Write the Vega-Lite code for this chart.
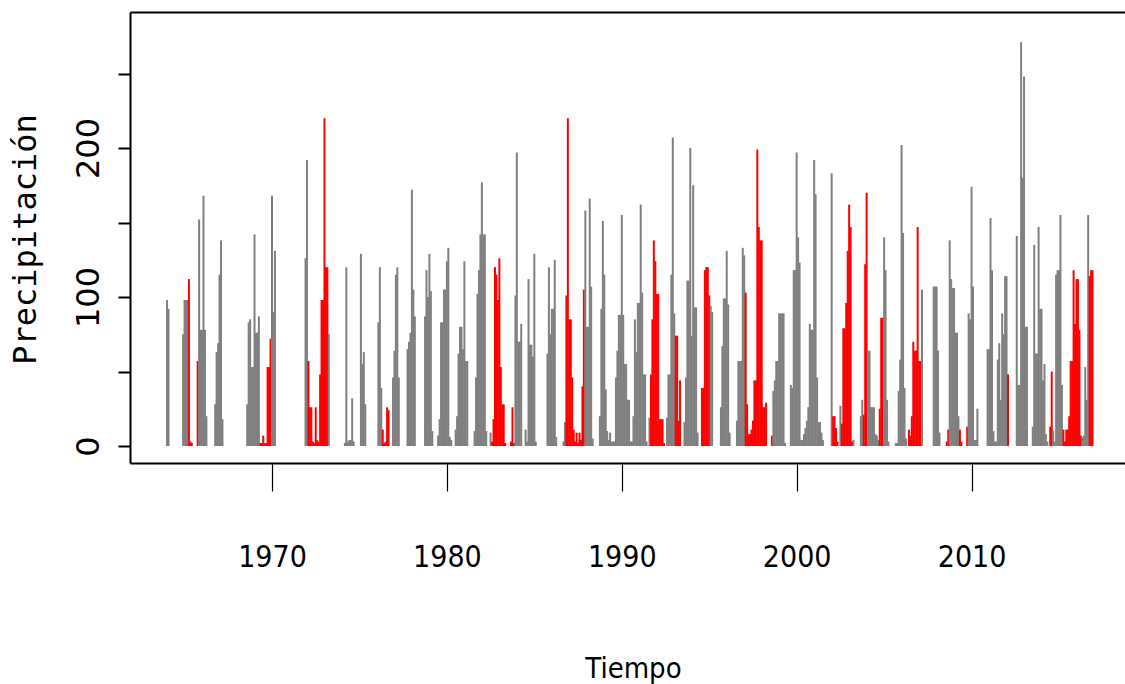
{
"$schema": "https://vega.github.io/schema/vega-lite/v6.json",
"autosize": "none",
"padding": {"left": 130, "top": 12, "right": 0, "bottom": 221},
"width": 996,
"height": 451,
"background": "white",
"config": {"view": {"stroke": null}, "axis": {"grid": false}},
"datasets": {"precip": [
{"t":1964,"p":98,"e":"Normal"},{"t":1964.083,"p":92,"e":"Normal"},{"t":1964.917,"p":75,"e":"Normal"},
{"t":1965,"p":98,"e":"Normal"},{"t":1965.083,"p":98,"e":"Normal"},{"t":1965.167,"p":98,"e":"Normal"},{"t":1965.25,"p":112,"e":"Niño"},{"t":1965.333,"p":3,"e":"Niño"},{"t":1965.417,"p":2,"e":"Niño"},{"t":1965.75,"p":57,"e":"Niño"},{"t":1965.833,"p":152,"e":"Normal"},{"t":1965.917,"p":78,"e":"Normal"},
{"t":1966,"p":78,"e":"Normal"},{"t":1966.083,"p":168,"e":"Normal"},{"t":1966.167,"p":78,"e":"Normal"},{"t":1966.25,"p":20,"e":"Normal"},{"t":1966.75,"p":28,"e":"Normal"},{"t":1966.833,"p":63,"e":"Normal"},{"t":1966.917,"p":69,"e":"Normal"},
{"t":1967,"p":115,"e":"Normal"},{"t":1967.083,"p":138,"e":"Normal"},{"t":1967.167,"p":18,"e":"Normal"},
{"t":1968.583,"p":28,"e":"Normal"},{"t":1968.667,"p":83,"e":"Normal"},{"t":1968.75,"p":85,"e":"Normal"},{"t":1968.833,"p":53,"e":"Normal"},{"t":1968.917,"p":53,"e":"Normal"},
{"t":1969,"p":142,"e":"Normal"},{"t":1969.083,"p":76,"e":"Normal"},{"t":1969.167,"p":76,"e":"Normal"},{"t":1969.25,"p":87,"e":"Normal"},{"t":1969.333,"p":2,"e":"Niño"},{"t":1969.417,"p":2,"e":"Niño"},{"t":1969.5,"p":7,"e":"Niño"},{"t":1969.583,"p":2,"e":"Niño"},{"t":1969.667,"p":2,"e":"Niño"},{"t":1969.75,"p":53,"e":"Niño"},{"t":1969.833,"p":53,"e":"Niño"},{"t":1969.917,"p":72,"e":"Niño"},
{"t":1970,"p":168,"e":"Normal"},{"t":1970.083,"p":90,"e":"Normal"},{"t":1970.167,"p":131,"e":"Normal"},
{"t":1971.917,"p":126,"e":"Normal"},
{"t":1972,"p":192,"e":"Normal"},{"t":1972.083,"p":57,"e":"Niño"},{"t":1972.167,"p":26,"e":"Niño"},{"t":1972.25,"p":26,"e":"Niño"},{"t":1972.333,"p":3,"e":"Niño"},{"t":1972.417,"p":2,"e":"Niño"},{"t":1972.5,"p":26,"e":"Niño"},{"t":1972.583,"p":4,"e":"Niño"},{"t":1972.667,"p":3,"e":"Niño"},{"t":1972.75,"p":48,"e":"Niño"},{"t":1972.833,"p":98,"e":"Niño"},{"t":1972.917,"p":98,"e":"Niño"},
{"t":1973,"p":220,"e":"Niño"},{"t":1973.083,"p":120,"e":"Niño"},{"t":1973.167,"p":120,"e":"Niño"},{"t":1973.25,"p":75,"e":"Normal"},
{"t":1974.167,"p":2,"e":"Normal"},{"t":1974.25,"p":120,"e":"Normal"},{"t":1974.333,"p":3,"e":"Normal"},{"t":1974.417,"p":4,"e":"Normal"},{"t":1974.5,"p":4,"e":"Normal"},{"t":1974.583,"p":32,"e":"Normal"},{"t":1974.667,"p":3,"e":"Normal"},
{"t":1975.083,"p":129,"e":"Normal"},{"t":1975.167,"p":55,"e":"Normal"},{"t":1975.25,"p":63,"e":"Normal"},{"t":1975.333,"p":28,"e":"Normal"},
{"t":1976.083,"p":83,"e":"Normal"},{"t":1976.167,"p":120,"e":"Normal"},{"t":1976.25,"p":39,"e":"Normal"},{"t":1976.333,"p":11,"e":"Niño"},{"t":1976.417,"p":2,"e":"Niño"},{"t":1976.5,"p":3,"e":"Niño"},{"t":1976.583,"p":26,"e":"Niño"},{"t":1976.667,"p":24,"e":"Niño"},{"t":1976.917,"p":46,"e":"Normal"},
{"t":1977,"p":64,"e":"Normal"},{"t":1977.083,"p":115,"e":"Normal"},{"t":1977.167,"p":120,"e":"Normal"},{"t":1977.25,"p":46,"e":"Normal"},{"t":1977.75,"p":65,"e":"Normal"},{"t":1977.833,"p":70,"e":"Normal"},{"t":1977.917,"p":76,"e":"Normal"},
{"t":1978,"p":172,"e":"Normal"},{"t":1978.083,"p":105,"e":"Normal"},{"t":1978.167,"p":87,"e":"Normal"},{"t":1978.75,"p":87,"e":"Normal"},{"t":1978.833,"p":118,"e":"Normal"},{"t":1978.917,"p":100,"e":"Normal"},
{"t":1979,"p":129,"e":"Normal"},{"t":1979.083,"p":104,"e":"Normal"},{"t":1979.167,"p":10,"e":"Normal"},{"t":1979.5,"p":7,"e":"Normal"},{"t":1979.583,"p":18,"e":"Normal"},{"t":1979.667,"p":83,"e":"Normal"},{"t":1979.75,"p":83,"e":"Normal"},{"t":1979.833,"p":105,"e":"Normal"},{"t":1979.917,"p":105,"e":"Normal"},
{"t":1980,"p":124,"e":"Normal"},{"t":1980.083,"p":133,"e":"Normal"},{"t":1980.167,"p":6,"e":"Normal"},{"t":1980.25,"p":4,"e":"Normal"},{"t":1980.5,"p":11,"e":"Normal"},{"t":1980.583,"p":20,"e":"Normal"},{"t":1980.667,"p":62,"e":"Normal"},{"t":1980.75,"p":80,"e":"Normal"},{"t":1980.833,"p":80,"e":"Normal"},{"t":1980.917,"p":65,"e":"Normal"},
{"t":1981,"p":124,"e":"Normal"},{"t":1981.083,"p":57,"e":"Normal"},{"t":1981.167,"p":57,"e":"Normal"},{"t":1981.583,"p":10,"e":"Normal"},{"t":1981.667,"p":46,"e":"Normal"},{"t":1981.75,"p":102,"e":"Normal"},{"t":1981.833,"p":118,"e":"Normal"},{"t":1981.917,"p":142,"e":"Normal"},
{"t":1982,"p":177,"e":"Normal"},{"t":1982.083,"p":142,"e":"Normal"},{"t":1982.167,"p":142,"e":"Normal"},{"t":1982.25,"p":10,"e":"Normal"},{"t":1982.5,"p":9,"e":"Normal"},{"t":1982.583,"p":3,"e":"Niño"},{"t":1982.667,"p":18,"e":"Niño"},{"t":1982.75,"p":120,"e":"Niño"},{"t":1982.833,"p":115,"e":"Niño"},{"t":1982.917,"p":98,"e":"Niño"},
{"t":1983,"p":126,"e":"Niño"},{"t":1983.083,"p":53,"e":"Niño"},{"t":1983.167,"p":28,"e":"Niño"},{"t":1983.25,"p":28,"e":"Niño"},{"t":1983.333,"p":2,"e":"Niño"},{"t":1983.667,"p":3,"e":"Niño"},{"t":1983.75,"p":26,"e":"Niño"},{"t":1983.833,"p":2,"e":"Niño"},{"t":1983.917,"p":101,"e":"Normal"},
{"t":1984,"p":197,"e":"Normal"},{"t":1984.083,"p":70,"e":"Normal"},{"t":1984.167,"p":70,"e":"Normal"},{"t":1984.25,"p":82,"e":"Normal"},{"t":1984.5,"p":11,"e":"Normal"},{"t":1984.583,"p":3,"e":"Normal"},{"t":1984.667,"p":112,"e":"Normal"},{"t":1984.75,"p":68,"e":"Normal"},{"t":1984.833,"p":68,"e":"Normal"},{"t":1984.917,"p":60,"e":"Normal"},
{"t":1985,"p":129,"e":"Normal"},{"t":1985.083,"p":3,"e":"Normal"},{"t":1985.75,"p":62,"e":"Normal"},{"t":1985.833,"p":120,"e":"Normal"},{"t":1985.917,"p":75,"e":"Normal"},
{"t":1986,"p":92,"e":"Normal"},{"t":1986.083,"p":92,"e":"Normal"},{"t":1986.167,"p":125,"e":"Normal"},{"t":1986.25,"p":6,"e":"Normal"},{"t":1986.667,"p":3,"e":"Normal"},{"t":1986.75,"p":16,"e":"Normal"},{"t":1986.833,"p":101,"e":"Niño"},{"t":1986.917,"p":220,"e":"Niño"},
{"t":1987,"p":85,"e":"Niño"},{"t":1987.083,"p":85,"e":"Niño"},{"t":1987.167,"p":46,"e":"Niño"},{"t":1987.25,"p":11,"e":"Niño"},{"t":1987.333,"p":3,"e":"Niño"},{"t":1987.417,"p":9,"e":"Niño"},{"t":1987.5,"p":2,"e":"Niño"},{"t":1987.583,"p":9,"e":"Niño"},{"t":1987.667,"p":4,"e":"Niño"},{"t":1987.75,"p":40,"e":"Niño"},{"t":1987.833,"p":105,"e":"Niño"},{"t":1987.917,"p":158,"e":"Normal"},
{"t":1988,"p":80,"e":"Normal"},{"t":1988.083,"p":80,"e":"Normal"},{"t":1988.167,"p":166,"e":"Normal"},{"t":1988.25,"p":107,"e":"Normal"},{"t":1988.333,"p":5,"e":"Normal"},{"t":1988.75,"p":20,"e":"Normal"},{"t":1988.833,"p":92,"e":"Normal"},{"t":1988.917,"p":151,"e":"Normal"},
{"t":1989,"p":115,"e":"Normal"},{"t":1989.083,"p":38,"e":"Normal"},{"t":1989.167,"p":10,"e":"Normal"},{"t":1989.25,"p":4,"e":"Normal"},{"t":1989.333,"p":9,"e":"Normal"},{"t":1989.417,"p":3,"e":"Normal"},{"t":1989.5,"p":3,"e":"Normal"},{"t":1989.583,"p":3,"e":"Normal"},{"t":1989.667,"p":46,"e":"Normal"},{"t":1989.75,"p":64,"e":"Normal"},{"t":1989.833,"p":88,"e":"Normal"},{"t":1989.917,"p":88,"e":"Normal"},
{"t":1990,"p":155,"e":"Normal"},{"t":1990.083,"p":88,"e":"Normal"},{"t":1990.167,"p":55,"e":"Normal"},{"t":1990.25,"p":55,"e":"Normal"},{"t":1990.333,"p":31,"e":"Normal"},{"t":1990.417,"p":31,"e":"Normal"},{"t":1990.5,"p":3,"e":"Normal"},{"t":1990.583,"p":3,"e":"Normal"},{"t":1990.667,"p":20,"e":"Normal"},{"t":1990.75,"p":85,"e":"Normal"},{"t":1990.833,"p":63,"e":"Normal"},{"t":1990.917,"p":96,"e":"Normal"},
{"t":1991,"p":96,"e":"Normal"},{"t":1991.083,"p":162,"e":"Normal"},{"t":1991.167,"p":103,"e":"Normal"},{"t":1991.25,"p":48,"e":"Normal"},{"t":1991.333,"p":48,"e":"Normal"},{"t":1991.417,"p":3,"e":"Normal"},{"t":1991.583,"p":19,"e":"Normal"},{"t":1991.667,"p":48,"e":"Niño"},{"t":1991.75,"p":85,"e":"Niño"},{"t":1991.833,"p":138,"e":"Niño"},{"t":1991.917,"p":124,"e":"Niño"},
{"t":1992,"p":102,"e":"Niño"},{"t":1992.083,"p":102,"e":"Niño"},{"t":1992.167,"p":18,"e":"Niño"},{"t":1992.25,"p":18,"e":"Niño"},{"t":1992.333,"p":18,"e":"Niño"},{"t":1992.417,"p":2,"e":"Niño"},{"t":1992.583,"p":19,"e":"Normal"},{"t":1992.667,"p":48,"e":"Normal"},{"t":1992.75,"p":48,"e":"Normal"},{"t":1992.833,"p":115,"e":"Normal"},{"t":1992.917,"p":207,"e":"Normal"},
{"t":1993,"p":89,"e":"Normal"},{"t":1993.083,"p":74,"e":"Niño"},{"t":1993.167,"p":74,"e":"Niño"},{"t":1993.25,"p":17,"e":"Niño"},{"t":1993.333,"p":44,"e":"Niño"},{"t":1993.583,"p":16,"e":"Normal"},{"t":1993.667,"p":46,"e":"Normal"},{"t":1993.75,"p":111,"e":"Normal"},{"t":1993.833,"p":111,"e":"Normal"},{"t":1993.917,"p":200,"e":"Normal"},
{"t":1994,"p":74,"e":"Normal"},{"t":1994.083,"p":175,"e":"Normal"},{"t":1994.167,"p":93,"e":"Normal"},{"t":1994.25,"p":93,"e":"Normal"},{"t":1994.333,"p":9,"e":"Normal"},{"t":1994.583,"p":39,"e":"Niño"},{"t":1994.667,"p":39,"e":"Niño"},{"t":1994.75,"p":118,"e":"Niño"},{"t":1994.833,"p":120,"e":"Niño"},{"t":1994.917,"p":120,"e":"Niño"},
{"t":1995,"p":101,"e":"Niño"},{"t":1995.083,"p":94,"e":"Normal"},{"t":1995.167,"p":90,"e":"Normal"},{"t":1995.667,"p":26,"e":"Normal"},{"t":1995.75,"p":67,"e":"Normal"},{"t":1995.833,"p":99,"e":"Normal"},{"t":1995.917,"p":99,"e":"Normal"},
{"t":1996,"p":131,"e":"Normal"},{"t":1996.083,"p":95,"e":"Normal"},{"t":1996.167,"p":9,"e":"Normal"},{"t":1996.583,"p":17,"e":"Normal"},{"t":1996.667,"p":57,"e":"Normal"},{"t":1996.75,"p":57,"e":"Normal"},{"t":1996.833,"p":57,"e":"Normal"},{"t":1996.917,"p":133,"e":"Normal"},
{"t":1997,"p":128,"e":"Normal"},{"t":1997.083,"p":103,"e":"Niño"},{"t":1997.167,"p":28,"e":"Niño"},{"t":1997.25,"p":8,"e":"Niño"},{"t":1997.333,"p":8,"e":"Niño"},{"t":1997.417,"p":11,"e":"Niño"},{"t":1997.5,"p":17,"e":"Niño"},{"t":1997.583,"p":44,"e":"Niño"},{"t":1997.667,"p":44,"e":"Niño"},{"t":1997.75,"p":199,"e":"Niño"},{"t":1997.833,"p":147,"e":"Niño"},{"t":1997.917,"p":138,"e":"Niño"},
{"t":1998,"p":138,"e":"Niño"},{"t":1998.083,"p":26,"e":"Niño"},{"t":1998.167,"p":26,"e":"Niño"},{"t":1998.25,"p":29,"e":"Niño"},{"t":1998.583,"p":7,"e":"Niño"},{"t":1998.667,"p":37,"e":"Normal"},{"t":1998.75,"p":44,"e":"Normal"},{"t":1998.833,"p":57,"e":"Normal"},{"t":1998.917,"p":57,"e":"Normal"},
{"t":1999,"p":89,"e":"Normal"},{"t":1999.083,"p":89,"e":"Normal"},{"t":1999.167,"p":89,"e":"Normal"},{"t":1999.25,"p":89,"e":"Normal"},{"t":1999.333,"p":2,"e":"Normal"},{"t":1999.667,"p":41,"e":"Normal"},{"t":1999.75,"p":39,"e":"Normal"},{"t":1999.833,"p":118,"e":"Normal"},{"t":1999.917,"p":118,"e":"Normal"},
{"t":2000,"p":197,"e":"Normal"},{"t":2000.083,"p":140,"e":"Normal"},{"t":2000.167,"p":123,"e":"Normal"},{"t":2000.25,"p":4,"e":"Normal"},{"t":2000.333,"p":4,"e":"Normal"},{"t":2000.417,"p":8,"e":"Normal"},{"t":2000.5,"p":12,"e":"Normal"},{"t":2000.583,"p":17,"e":"Normal"},{"t":2000.667,"p":26,"e":"Normal"},{"t":2000.75,"p":82,"e":"Normal"},{"t":2000.833,"p":78,"e":"Normal"},{"t":2000.917,"p":78,"e":"Normal"},
{"t":2001,"p":192,"e":"Normal"},{"t":2001.083,"p":169,"e":"Normal"},{"t":2001.167,"p":46,"e":"Normal"},{"t":2001.25,"p":16,"e":"Normal"},{"t":2001.333,"p":16,"e":"Normal"},{"t":2001.417,"p":9,"e":"Normal"},{"t":2001.5,"p":4,"e":"Normal"},
{"t":2002,"p":183,"e":"Normal"},{"t":2002.083,"p":20,"e":"Niño"},{"t":2002.167,"p":20,"e":"Niño"},{"t":2002.25,"p":12,"e":"Niño"},{"t":2002.333,"p":3,"e":"Niño"},{"t":2002.5,"p":27,"e":"Normal"},{"t":2002.583,"p":15,"e":"Niño"},{"t":2002.667,"p":79,"e":"Niño"},{"t":2002.75,"p":79,"e":"Niño"},{"t":2002.833,"p":96,"e":"Niño"},{"t":2002.917,"p":131,"e":"Niño"},
{"t":2003,"p":162,"e":"Niño"},{"t":2003.083,"p":147,"e":"Niño"},{"t":2003.167,"p":3,"e":"Niño"},{"t":2003.25,"p":4,"e":"Normal"},{"t":2003.667,"p":20,"e":"Normal"},{"t":2003.75,"p":31,"e":"Normal"},{"t":2003.833,"p":21,"e":"Niño"},{"t":2003.917,"p":122,"e":"Niño"},
{"t":2004,"p":170,"e":"Niño"},{"t":2004.083,"p":64,"e":"Normal"},{"t":2004.167,"p":64,"e":"Normal"},{"t":2004.25,"p":26,"e":"Normal"},{"t":2004.333,"p":26,"e":"Normal"},{"t":2004.417,"p":26,"e":"Normal"},{"t":2004.5,"p":8,"e":"Normal"},{"t":2004.583,"p":7,"e":"Normal"},{"t":2004.667,"p":4,"e":"Normal"},{"t":2004.75,"p":25,"e":"Niño"},{"t":2004.833,"p":86,"e":"Niño"},{"t":2004.917,"p":86,"e":"Niño"},
{"t":2005,"p":140,"e":"Normal"},{"t":2005.083,"p":118,"e":"Normal"},{"t":2005.167,"p":31,"e":"Normal"},{"t":2005.25,"p":3,"e":"Normal"},{"t":2005.667,"p":2,"e":"Normal"},{"t":2005.75,"p":2,"e":"Normal"},{"t":2005.833,"p":37,"e":"Normal"},{"t":2005.917,"p":58,"e":"Normal"},
{"t":2006,"p":202,"e":"Normal"},{"t":2006.083,"p":143,"e":"Normal"},{"t":2006.167,"p":39,"e":"Normal"},{"t":2006.25,"p":5,"e":"Normal"},{"t":2006.417,"p":11,"e":"Niño"},{"t":2006.5,"p":7,"e":"Niño"},{"t":2006.583,"p":20,"e":"Niño"},{"t":2006.667,"p":70,"e":"Niño"},{"t":2006.75,"p":64,"e":"Niño"},{"t":2006.833,"p":64,"e":"Niño"},{"t":2006.917,"p":147,"e":"Niño"},
{"t":2007,"p":57,"e":"Niño"},{"t":2007.083,"p":57,"e":"Niño"},{"t":2007.167,"p":105,"e":"Normal"},{"t":2007.833,"p":107,"e":"Normal"},{"t":2007.917,"p":107,"e":"Normal"},
{"t":2008,"p":107,"e":"Normal"},{"t":2008.083,"p":64,"e":"Normal"},{"t":2008.167,"p":9,"e":"Normal"},{"t":2008.583,"p":3,"e":"Niño"},{"t":2008.667,"p":11,"e":"Niño"},{"t":2008.75,"p":138,"e":"Normal"},{"t":2008.833,"p":112,"e":"Normal"},{"t":2008.917,"p":106,"e":"Normal"},
{"t":2009,"p":106,"e":"Normal"},{"t":2009.083,"p":76,"e":"Normal"},{"t":2009.167,"p":76,"e":"Normal"},{"t":2009.25,"p":20,"e":"Normal"},{"t":2009.333,"p":11,"e":"Niño"},{"t":2009.417,"p":3,"e":"Niño"},{"t":2009.75,"p":13,"e":"Niño"},{"t":2009.833,"p":89,"e":"Normal"},{"t":2009.917,"p":85,"e":"Normal"},
{"t":2010,"p":174,"e":"Normal"},{"t":2010.083,"p":107,"e":"Normal"},{"t":2010.167,"p":4,"e":"Normal"},{"t":2010.25,"p":4,"e":"Normal"},{"t":2010.333,"p":25,"e":"Normal"},{"t":2010.917,"p":65,"e":"Normal"},
{"t":2011,"p":65,"e":"Normal"},{"t":2011.083,"p":153,"e":"Normal"},{"t":2011.167,"p":118,"e":"Normal"},{"t":2011.25,"p":10,"e":"Normal"},{"t":2011.333,"p":3,"e":"Normal"},{"t":2011.417,"p":3,"e":"Normal"},{"t":2011.5,"p":58,"e":"Normal"},{"t":2011.583,"p":69,"e":"Normal"},{"t":2011.667,"p":31,"e":"Normal"},{"t":2011.75,"p":89,"e":"Normal"},{"t":2011.833,"p":75,"e":"Normal"},{"t":2011.917,"p":114,"e":"Normal"},
{"t":2012,"p":114,"e":"Normal"},{"t":2012.083,"p":48,"e":"Niño"},{"t":2012.583,"p":141,"e":"Normal"},{"t":2012.667,"p":41,"e":"Normal"},{"t":2012.75,"p":41,"e":"Normal"},{"t":2012.833,"p":271,"e":"Normal"},{"t":2012.917,"p":180,"e":"Normal"},
{"t":2013,"p":248,"e":"Normal"},{"t":2013.083,"p":80,"e":"Normal"},{"t":2013.167,"p":80,"e":"Normal"},{"t":2013.5,"p":13,"e":"Normal"},{"t":2013.583,"p":135,"e":"Normal"},{"t":2013.667,"p":62,"e":"Normal"},{"t":2013.75,"p":62,"e":"Normal"},{"t":2013.833,"p":147,"e":"Normal"},{"t":2013.917,"p":92,"e":"Normal"},
{"t":2014,"p":92,"e":"Normal"},{"t":2014.083,"p":44,"e":"Normal"},{"t":2014.167,"p":55,"e":"Normal"},{"t":2014.25,"p":8,"e":"Normal"},{"t":2014.333,"p":3,"e":"Normal"},{"t":2014.5,"p":13,"e":"Niño"},{"t":2014.583,"p":50,"e":"Niño"},{"t":2014.667,"p":10,"e":"Normal"},{"t":2014.75,"p":3,"e":"Normal"},{"t":2014.833,"p":115,"e":"Normal"},{"t":2014.917,"p":118,"e":"Normal"},
{"t":2015,"p":118,"e":"Normal"},{"t":2015.083,"p":155,"e":"Normal"},{"t":2015.167,"p":41,"e":"Normal"},{"t":2015.25,"p":11,"e":"Niño"},{"t":2015.333,"p":3,"e":"Niño"},{"t":2015.417,"p":11,"e":"Niño"},{"t":2015.5,"p":11,"e":"Niño"},{"t":2015.583,"p":20,"e":"Niño"},{"t":2015.667,"p":57,"e":"Niño"},{"t":2015.75,"p":57,"e":"Niño"},{"t":2015.833,"p":118,"e":"Niño"},{"t":2015.917,"p":82,"e":"Niño"},
{"t":2016,"p":112,"e":"Niño"},{"t":2016.083,"p":112,"e":"Niño"},{"t":2016.167,"p":78,"e":"Niño"},{"t":2016.25,"p":7,"e":"Niño"},{"t":2016.333,"p":6,"e":"Normal"},{"t":2016.417,"p":7,"e":"Normal"},{"t":2016.5,"p":53,"e":"Normal"},{"t":2016.583,"p":31,"e":"Normal"},{"t":2016.667,"p":155,"e":"Normal"},{"t":2016.75,"p":114,"e":"Niño"},{"t":2016.833,"p":118,"e":"Niño"},{"t":2016.917,"p":118,"e":"Niño"}
], "marco": [{"t": 1990}]},
"layer": [
{
"data": {"name": "precip"},
"mark": {"type": "rule", "strokeWidth": 2},
"encoding": {
"x": {"field": "t", "type": "quantitative",
"scale": {"domain": [1961.881, 2018.83], "nice": false, "zero": false},
"axis": {"orient": "bottom", "values": [1970, 1980, 1990, 2000, 2010], "format": "d",
"domain": true, "domainColor": "#000000", "domainWidth": 2,
"ticks": true, "tickSize": 28, "tickColor": "#000000", "tickWidth": 1.2,
"labelFont": "'DejaVu Sans Condensed', 'Liberation Sans', sans-serif", "labelFontSize": 30, "labelColor": "#000000",
"labelBaseline": "alphabetic", "labelPadding": 75, "labelFlush": false, "labelOverlap": false,
"title": "Tiempo", "titleFont": "'DejaVu Sans Condensed', 'Liberation Sans', sans-serif", "titleFontSize": 29, "titleFontWeight": "normal", "titleColor": "#000000",
"titleX": 503, "titleY": 214, "titleAlign": "center", "titleBaseline": "alphabetic"}},
"y": {"field": "p", "type": "quantitative",
"scale": {"domain": [-11.41, 291.28], "nice": false, "zero": false},
"axis": {"values": [0, 50, 100, 150, 200, 250],
"labelExpr": "datum.value % 100 === 0 ? datum.label : ''",
"domain": true, "domainColor": "#000000", "domainWidth": 2,
"ticks": true, "tickSize": 12, "tickColor": "#000000", "tickWidth": 2,
"labelFont": "DejaVu Sans", "labelFontSize": 32, "labelColor": "#000000",
"labelAngle": -90, "labelAlign": "center", "labelBaseline": "alphabetic", "labelPadding": 20,
"labelOverlap": false, "labelFlush": false,
"title": "Precipitación", "titleFont": "DejaVu Sans Mono", "titleFontSize": 32, "titleFontWeight": "normal", "titleColor": "#000000",
"titleAngle": -90, "titleX": -95, "titleY": 227, "titleAlign": "center", "titleBaseline": "alphabetic"}},
"y2": {"datum": 0},
"color": {"field": "e", "type": "nominal",
"scale": {"domain": ["Normal", "Niño"], "range": ["#808080", "#ff0000"]}, "legend": null}
}
},
{
"data": {"name": "marco"},
"mark": {"type": "rule", "opacity": 0},
"encoding": {
"x": {"field": "t", "type": "quantitative",
"scale": {"domain": [1961.881, 2018.83], "nice": false, "zero": false},
"axis": {"orient": "top", "labels": false, "ticks": false, "title": null, "domain": true, "domainColor": "#000000", "domainWidth": 2}}
}
}
],
"resolve": {"axis": {"x": "independent"}}
}
